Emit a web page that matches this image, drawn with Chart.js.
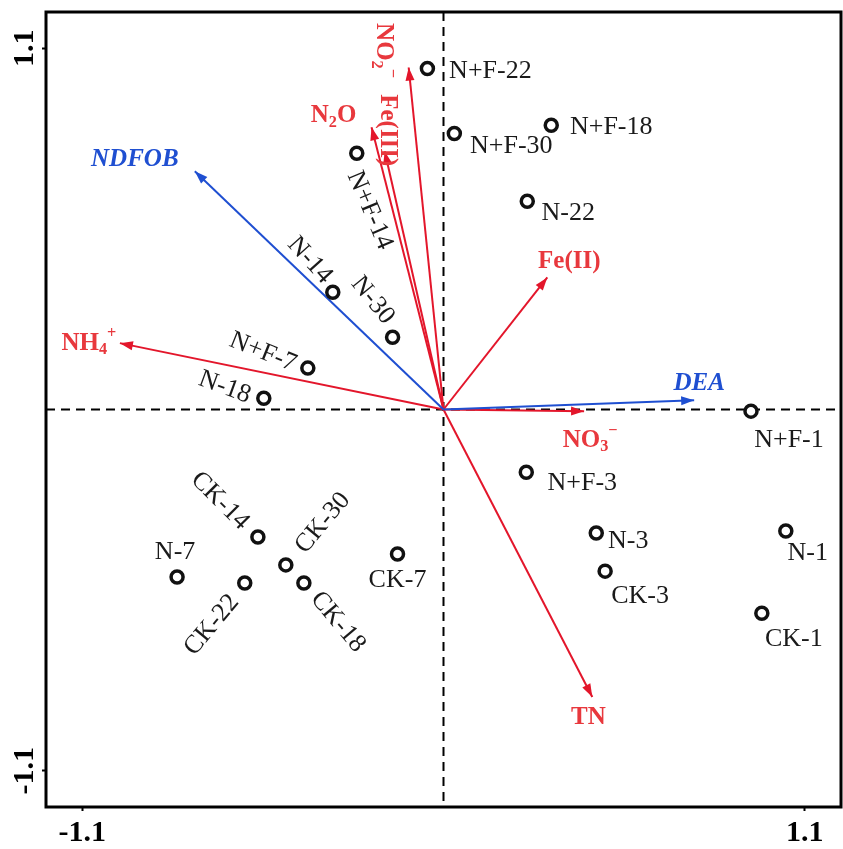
<!DOCTYPE html>
<html>
<head>
<meta charset="utf-8">
<script src="https://cdn.jsdelivr.net/npm/chart.js@4.4.1/dist/chart.umd.min.js"></script>
<style>
  html, body { margin: 0; padding: 0; background: #fff; overflow: hidden; }
  canvas { display: block; }
</style>
</head>
<body>
<canvas id="rda" width="843" height="849"></canvas>
<script>
// samples (site scores)
const sampleNames = ['N+F-22','N+F-30','N+F-18','N+F-14','N-22','N-14','N-30','N+F-7','N-18','N+F-1','N+F-3','N-3','CK-3','N-1','CK-1','CK-7','CK-14','CK-30','CK-18','CK-22','N-7'];
const sampleX = [-0.049, 0.033, 0.328, -0.264, 0.255, -0.337, -0.155, -0.413, -0.547, 0.936, 0.252, 0.465, 0.492, 1.042, 0.969, -0.140, -0.565, -0.480, -0.425, -0.605, -0.811];
const sampleY = [1.038, 0.840, 0.865, 0.780, 0.634, 0.357, 0.220, 0.126, 0.034, -0.005, -0.191, -0.376, -0.492, -0.370, -0.620, -0.440, -0.388, -0.473, -0.528, -0.528, -0.510];

// variable vectors (_ = subscript, ^ = superscript)
const varNames = ['NDFOB', 'DEA', 'NH_4^+', 'NO_3^−', 'Fe(II)', 'TN', 'NO_2^−', 'N_2O', 'Fe(III)'];
const varX = [-0.757, 0.763, -0.985, 0.428, 0.316, 0.453, -0.106, -0.219, -0.179];
const varY = [0.725, 0.028, 0.202, -0.005, 0.402, -0.875, 1.041, 0.859, 0.786];
const varKind = ['bio', 'bio', 'env', 'env', 'env', 'env', 'env', 'env', 'env'];

const xTicks = [-1.1, 1.1];
const yTicks = [-1.1, 1.1];

// label placement: [dx px, dy px, rotation deg] from the mark
const sampleLabelPos = {
  'N+F-22': [63, 3, 0], 'N+F-30': [57, 13, 0], 'N+F-18': [60, 2, 0], 'N+F-14': [13, 57, 67],
  'N-22': [41, 12, 0], 'N-14': [-23, -32, 48], 'N-30': [-20, -37, 51], 'N+F-7': [-45, -16, 22],
  'N-18': [-39, -11, 20], 'N+F-1': [38, 29, 0], 'N+F-3': [56, 11, 0], 'N-3': [32, 8, 0],
  'CK-3': [35, 25, 0], 'N-1': [22, 22, 0], 'CK-1': [32, 26, 0], 'CK-7': [0, 26, 0],
  'CK-14': [-38, -36, 45], 'CK-30': [37, -42, -50], 'CK-18': [34, 39, 50], 'CK-22': [-33, 42, -50],
  'N-7': [-2, -25, 0]
};
const varLabelPos = [[-60, -12, 0], [5, -17, 0], [-31, 0, 0], [6, 29, 0], [22, -16, 0], [-4, 21, 0], [-25, -17, 90], [-38, -12, 0], [3, -21, 90]];

const kindColor = { bio: '#1f4fd1', env: '#e3162b' };
const kindLabelColor = { bio: '#1f4fd1', env: '#e8383d' };
const SERIF = '"Liberation Serif", "Times New Roman", serif';

function splitRich(str) {
  const out = [];
  for (let i = 0; i < str.length; i++) {
    const c = str[i];
    if ((c === '_' || c === '^') && i + 1 < str.length) {
      out.push({ t: str[i + 1], k: c });
      i++;
    } else if (out.length && !out[out.length - 1].k) {
      out[out.length - 1].t += c;
    } else {
      out.push({ t: c, k: '' });
    }
  }
  return out;
}

function drawText(ctx, str, cx, cy, rot, size, style, color) {
  const parts = splitRich(str);
  const f = s => `${style} ${s}px ${SERIF}`;
  let w = 0;
  parts.forEach(p => {
    ctx.font = f(p.k ? size * 0.65 : size);
    p.w = ctx.measureText(p.t).width;
    w += p.w;
  });
  ctx.save();
  ctx.translate(cx, cy);
  ctx.rotate(rot * Math.PI / 180);
  ctx.fillStyle = color;
  ctx.textBaseline = 'middle';
  ctx.textAlign = 'left';
  let x = -w / 2;
  parts.forEach(p => {
    ctx.font = f(p.k ? size * 0.65 : size);
    const dy = p.k === '_' ? size * 0.28 : p.k === '^' ? -size * 0.36 : 0;
    ctx.fillText(p.t, x, dy);
    x += p.w;
  });
  ctx.restore();
}

const rdaPlugin = {
  id: 'rda',
  beforeDatasetsDraw(chart) {
    const { ctx, chartArea: a, scales: { x, y } } = chart;
    const x0 = x.getPixelForValue(0), y0 = y.getPixelForValue(0);
    ctx.save();
    ctx.strokeStyle = '#000';
    ctx.lineWidth = 2;
    ctx.setLineDash([9, 6]);
    ctx.beginPath();
    ctx.moveTo(x0, a.top); ctx.lineTo(x0, a.bottom);
    ctx.moveTo(a.left, y0); ctx.lineTo(a.right, y0);
    ctx.stroke();
    ctx.restore();
  },
  afterDatasetsDraw(chart) {
    const ctx = chart.ctx;
    // arrow heads
    chart.data.datasets.forEach((ds, di) => {
      if (!ds.isArrow) return;
      const pts = chart.getDatasetMeta(di).data;
      const p0 = pts[0], p1 = pts[1];
      const ang = Math.atan2(p1.y - p0.y, p1.x - p0.x);
      const L = 13, W = 4.5;
      ctx.save();
      ctx.fillStyle = ds.borderColor;
      ctx.translate(p1.x, p1.y);
      ctx.rotate(ang);
      ctx.beginPath();
      ctx.moveTo(0, 0);
      ctx.lineTo(-L, -W);
      ctx.lineTo(-L, W);
      ctx.closePath();
      ctx.fill();
      ctx.restore();
      const [dx, dy, rot] = varLabelPos[ds.varIndex];
      const kind = varKind[ds.varIndex];
      drawText(ctx, ds.label, p1.x + dx, p1.y + dy, rot, 25, kind === 'bio' ? 'italic bold' : 'bold', kindLabelColor[kind]);
    });
    // sample labels
    const meta = chart.getDatasetMeta(0);
    meta.data.forEach((pt, i) => {
      const [dx, dy, rot] = sampleLabelPos[sampleNames[i]];
      drawText(ctx, sampleNames[i], pt.x + dx, pt.y + dy, rot, 26, 'normal', '#1a1a1a');
    });
  },
  afterDraw(chart) {
    const { ctx, chartArea: a, scales: { y } } = chart;
    ctx.save();
    ctx.strokeStyle = '#000';
    ctx.lineWidth = 3;
    ctx.strokeRect(a.left, a.top, a.right - a.left, a.bottom - a.top);
    y.ticks.forEach(t => {
      ctx.save();
      ctx.translate(25, y.getPixelForValue(t.value));
      ctx.rotate(-Math.PI / 2);
      ctx.font = `bold 30px ${SERIF}`;
      ctx.fillStyle = '#000';
      ctx.textAlign = 'center';
      ctx.textBaseline = 'middle';
      ctx.fillText(String(t.value), 0, 0);
      ctx.restore();
    });
    ctx.restore();
  }
};

const arrowSets = varNames.map((n, i) => ({
  label: n,
  isArrow: true,
  varIndex: i,
  data: [{ x: 0, y: 0 }, { x: varX[i], y: varY[i] }],
  showLine: true,
  borderColor: kindColor[varKind[i]],
  borderWidth: 2,
  pointRadius: 0,
  fill: false
}));

new Chart(document.getElementById('rda'), {
  type: 'scatter',
  data: {
    datasets: [
      {
        label: 'samples',
        data: sampleX.map((v, i) => ({ x: v, y: sampleY[i] })),
        pointStyle: 'circle',
        pointRadius: 6,
        borderWidth: 3.5,
        borderColor: '#111',
        backgroundColor: '#fff'
      },
      ...arrowSets
    ]
  },
  options: {
    animation: false,
    responsive: false,
    devicePixelRatio: 1,
    layout: { autoPadding: false, padding: { top: 12, right: 2, left: 0, bottom: 0 } },
    plugins: { legend: { display: false }, tooltip: { enabled: false } },
    scales: {
      x: {
        type: 'linear',
        min: -1.21,
        max: 1.21,
        afterBuildTicks: s => { s.ticks = xTicks.map(v => ({ value: v })); },
        afterFit: s => { s.height = 42; s.paddingLeft = 0; s.paddingRight = 0; },
        border: { display: false },
        grid: { drawOnChartArea: false, drawTicks: true, tickLength: 4, tickColor: '#000', tickWidth: 2 },
        ticks: { color: '#000', padding: 4, maxRotation: 0, font: { family: SERIF, size: 30, weight: 'bold' } }
      },
      y: {
        type: 'linear',
        min: -1.21,
        max: 1.21,
        afterBuildTicks: s => { s.ticks = yTicks.map(v => ({ value: v })); },
        afterFit: s => { s.width = 46; s.paddingTop = 0; s.paddingBottom = 0; },
        border: { display: false },
        grid: { drawOnChartArea: false, drawTicks: true, tickLength: 4, tickColor: '#000', tickWidth: 2 },
        ticks: { display: false }
      }
    }
  },
  plugins: [rdaPlugin]
});
</script>
</body>
</html>
